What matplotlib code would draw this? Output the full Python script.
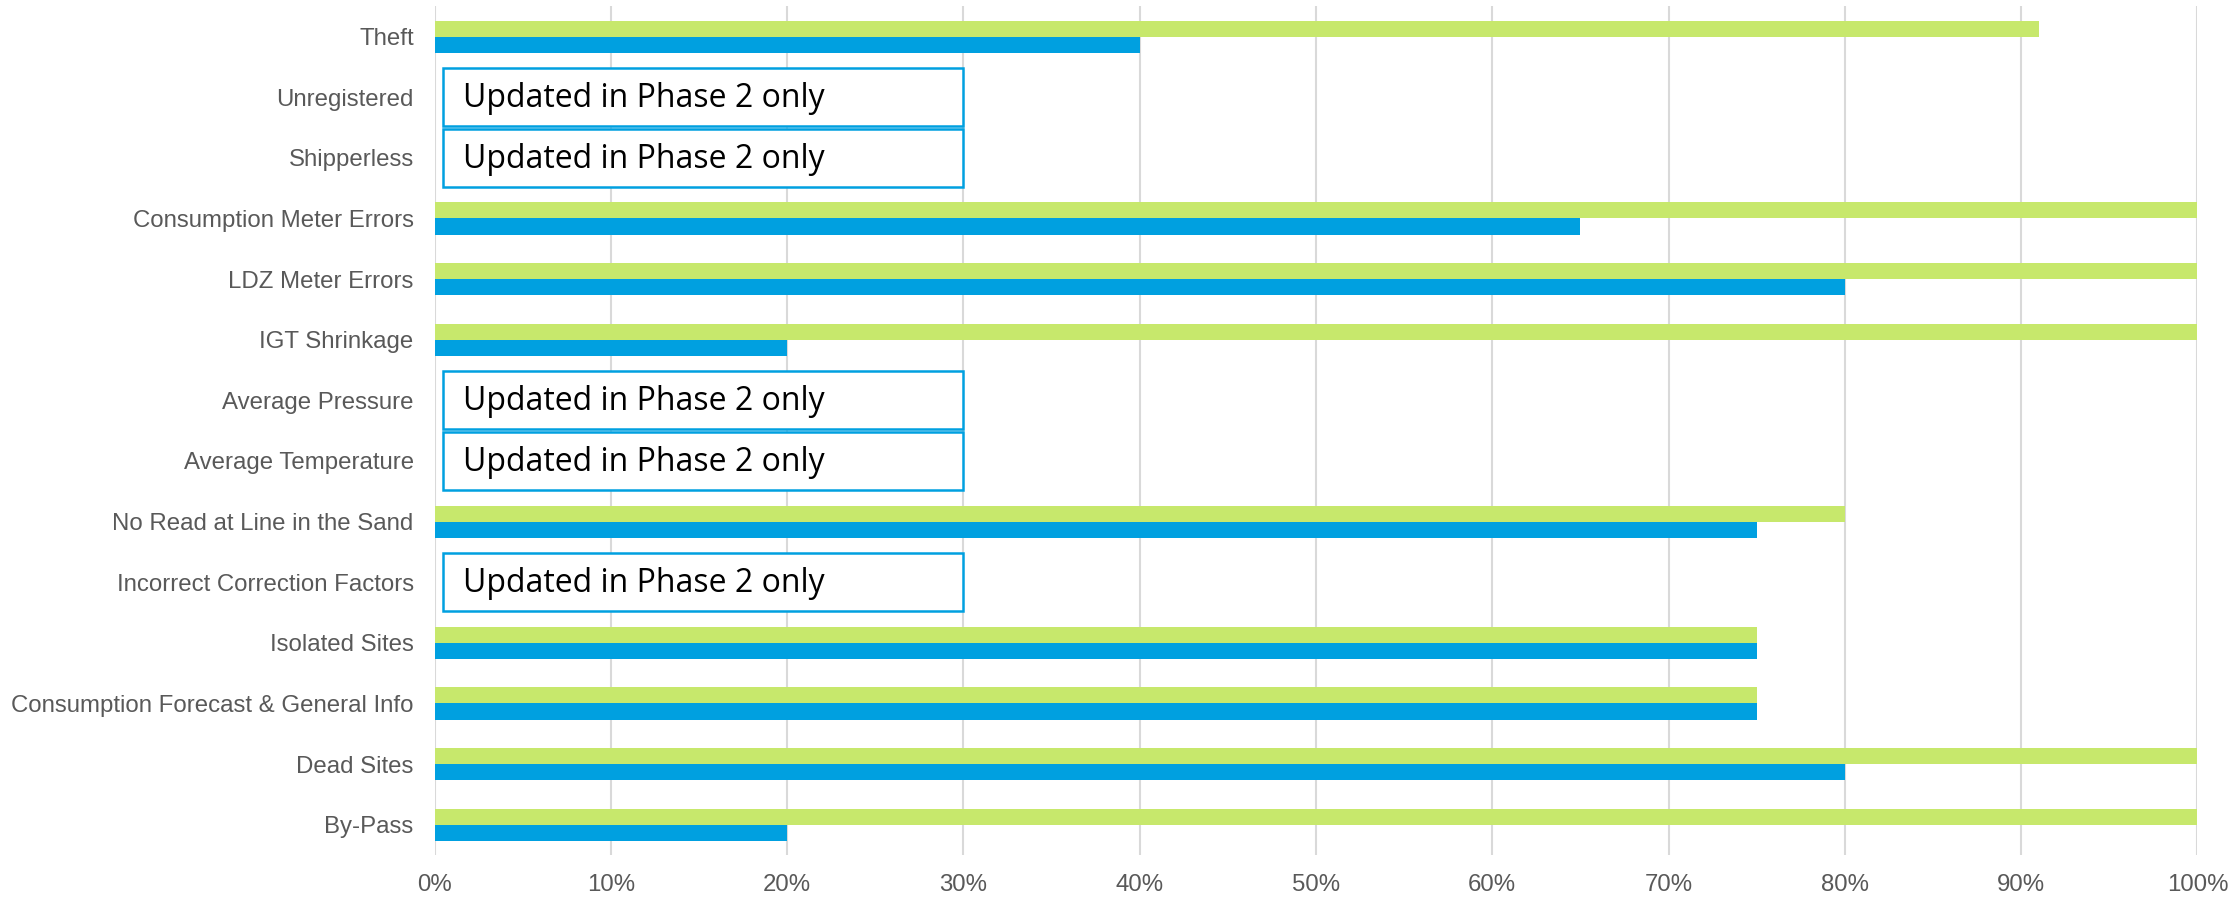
import numpy as np
import matplotlib.pyplot as plt
from matplotlib.patches import Rectangle

# Categories, top to bottom
categories = ['Theft', 'Unregistered', 'Shipperless', 'Consumption Meter Errors',
              'LDZ Meter Errors', 'IGT Shrinkage', 'Average Pressure',
              'Average Temperature', 'No Read at Line in the Sand',
              'Incorrect Correction Factors', 'Isolated Sites',
              'Consumption Forecast & General Info', 'Dead Sites', 'By-Pass']

# Series values (fraction); None = updated in phase 2 only
green_vals = [0.91, None, None, 1.00, 1.00, 1.00, None, None, 0.80, None, 0.75, 0.75, 1.00, 1.00]
blue_vals = [0.40, None, None, 0.65, 0.80, 0.20, None, None, 0.75, None, 0.75, 0.75, 0.80, 0.20]

box_text = 'Updated in Phase 2 only'
x_ticks = [0, 0.1, 0.2, 0.3, 0.4, 0.5, 0.6, 0.7, 0.8, 0.9, 1.0]
x_tick_labels = ['0%', '10%', '20%', '30%', '40%', '50%', '60%', '70%', '80%', '90%', '100%']

GREEN = '#C7E86C'
BLUE = '#00A0E0'
GRID = '#D9D9D9'
LABEL = '#595959'

fig = plt.figure(figsize=(22.4, 9), dpi=100)
ax = fig.add_axes([0.194, 0.05, 0.787, 0.943])

y = np.arange(len(categories))
h = 0.265
for i, (g, b) in enumerate(zip(green_vals, blue_vals)):
    if g is None:
        # placeholder box spanning the row
        ax.add_patch(Rectangle((0.005, i - 0.48), 0.295, 0.96, fill=True,
                               facecolor='white', edgecolor=BLUE, linewidth=1.8, zorder=3))
        ax.text(0.016, i + 0.02, box_text, va='center', ha='left',
                fontsize=23, family='Open Sans', color='black', zorder=4)
        continue
    ax.barh(i - h / 2, g, height=h, color=GREEN, zorder=2)
    ax.barh(i + h / 2, b, height=h, color=BLUE, zorder=2)

ax.set_xlim(0, 1.0)
ax.set_ylim(len(categories) - 0.5, -0.5)
ax.set_yticks(y)
ax.set_yticklabels(categories, fontsize=17.3, color=LABEL, family='Liberation Sans')
ax.set_xticks(x_ticks)
ax.set_xticklabels(x_tick_labels, fontsize=17.3, color=LABEL, family='Liberation Sans')
ax.tick_params(axis='both', length=0)
ax.tick_params(axis='y', pad=15)
ax.tick_params(axis='x', pad=14)
ax.grid(axis='x', color=GRID, linewidth=1.5, zorder=0)
ax.set_axisbelow(True)
for s in ax.spines.values():
    s.set_visible(False)

fig.savefig('out.png', dpi=100)
